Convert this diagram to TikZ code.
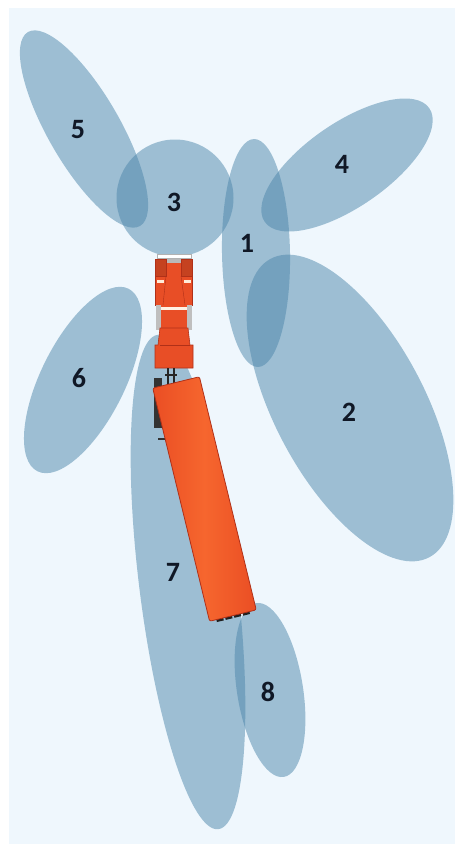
\documentclass[tikz,border=0pt]{standalone}
\usepackage{fontspec}
\setmainfont{Carlito}
\usepackage{tikz}

\definecolor{panelbg}{RGB}{239,247,253}
\definecolor{zoneblue}{RGB}{76,134,170}
\definecolor{labelink}{RGB}{16,24,38}
\definecolor{truckred}{RGB}{232,78,38}
\definecolor{truckdark}{RGB}{176,48,24}
\definecolor{trailerlight}{RGB}{246,102,46}
\definecolor{trailerdark}{RGB}{234,78,36}

\tikzset{
  zone/.style={fill=zoneblue, fill opacity=0.5},
  zonelabel/.style={font=\fontsize{28}{28}\selectfont\bfseries, text=labelink, inner sep=0pt},
  cab/.style={fill=truckred, draw=truckdark, line width=0.6pt},
}

\begin{document}
\begin{tikzpicture}[x=1pt,y=-1pt]

\useasboundingbox (0,0) rectangle (455,844);
\fill[white] (0,0) rectangle (455,844);
\fill[panelbg] (9,8) rectangle (455,844);

% zones around the vehicle
\fill[zone, rotate around={91:(256,253)}] (256,253) ellipse (114pt and 34pt);
\fill[zone, rotate around={-62:(350,408)}] (350,408) ellipse (169pt and 75pt);
\fill[zone] (175,198) circle (58.5pt);
\fill[zone, rotate around={34.6:(347,165)}] (347,165) ellipse (100pt and 42pt);
\fill[zone, rotate around={-60:(84,129)}] (84,129) ellipse (112pt and 36pt);
\fill[zone, rotate around={63.5:(83,380)}] (83,380) ellipse (102pt and 42pt);
\fill[zone, rotate around={-83:(188,582)}] (188,582) ellipse (249pt and 49pt);
\fill[zone, rotate around={-81:(270,690)}] (270,690) ellipse (88pt and 33pt);

% tractor
\fill[white, draw=gray!60] (157,254) rectangle (191,258);
\filldraw[cab] (155,259) rectangle (192,305);
\fill[gray!55] (166,259) rectangle (181,263);
\filldraw[cab, fill=truckred!85!black] (155,259) rectangle (166,276);
\filldraw[cab, fill=truckred!85!black] (181,259) rectangle (192,276);
\draw[truckdark] (166,276) -- (163,305);
\draw[truckdark] (181,276) -- (185,305);
\fill[orange!15] (157,280) rectangle (164,283);
\fill[orange!15] (184,280) rectangle (191,283);
\fill[gray!50] (156,305) rectangle (192,330);
\fill[truckred] (161,305) rectangle (187,330);
\fill[white!90!orange] (161,307) rectangle (187,310);
\filldraw[cab] (160,328) -- (188,328) -- (190,345) -- (193,345) -- (193,368)
  -- (155,368) -- (155,345) -- (158,345) -- cycle;
\draw[truckdark, thin] (160,345) -- (190,345);
\draw[gray!30!black, line width=1.2pt] (168,368) -- (168,384);
\draw[gray!30!black, line width=1.2pt] (174,368) -- (174,384);
\draw[gray!30!black, line width=1.2pt] (165,375) -- (177,375);
\fill[gray!40!black] (154,378) rectangle (162,428);
\draw[gray!40!black, line width=1.5pt] (158,439) -- (165,439);

% trailer
\begin{scope}[shift={(204.5,499)}, rotate=13.7]
  \draw[gray!25!black, line width=3pt, dash pattern=on 7pt off 2pt] (-17,121) -- (17,121);
  \shade[left color=trailerdark, right color=trailerdark, middle color=trailerlight,
    draw=truckdark, line width=0.8pt, rounded corners=2pt] (-24,-120) rectangle (24,120);
\end{scope}

% zone numbers
\node[zonelabel] (l1) at (247,243) {1};
\node[zonelabel] (l2) at (349,412) {2};
\node[zonelabel] (l3) at (174,202) {3};
\node[zonelabel] (l4) at (342,164) {4};
\node[zonelabel] (l5) at (78,130) {5};
\node[zonelabel] (l6) at (79,378) {6};
\node[zonelabel] (l7) at (173,572) {7};
\node[zonelabel] (l8) at (268,692) {8};

\end{tikzpicture}
\end{document}
